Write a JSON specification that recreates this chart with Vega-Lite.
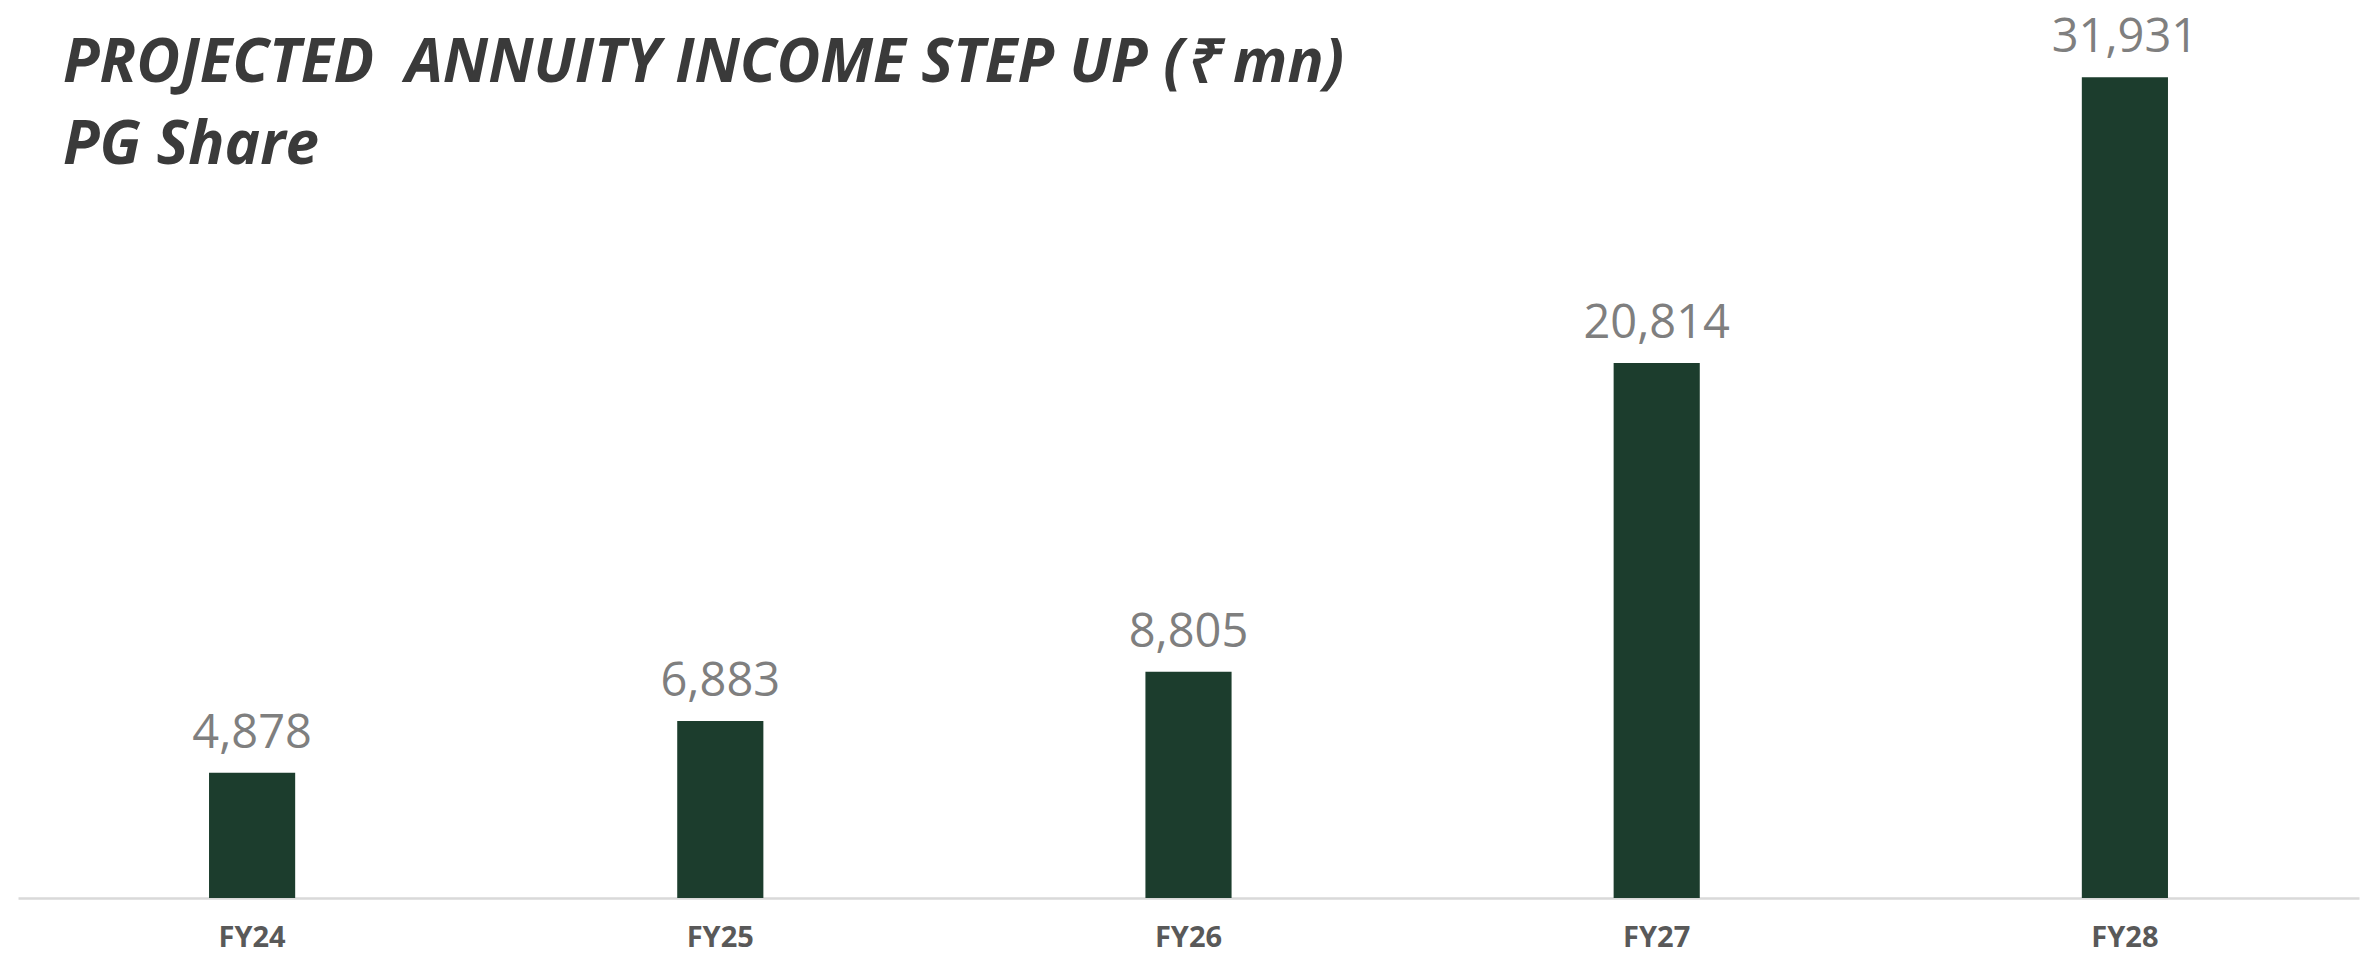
{
  "$schema": "https://vega.github.io/schema/vega-lite/v6.json",
  "width": 2341,
  "height": 878,
  "autosize": {"type": "none"},
  "padding": {"left": 18, "top": 20, "right": 11, "bottom": 55},
  "background": "white",
  "config": {"view": {"stroke": null}},
  "title": {
    "text": ["PROJECTED\u00a0 ANNUITY INCOME STEP UP (₹ mn)", "PG Share"],
    "anchor": "start",
    "frame": "group",
    "orient": "top",
    "offset": 0,
    "baseline": "alphabetic",
    "dx": 45,
    "dy": 210,
    "lineHeight": 82,
    "font": "Open Sans",
    "fontSize": 60,
    "fontWeight": "bold",
    "fontStyle": "italic",
    "color": "#3a3a3a"
  },
  "data": {
    "values": [
      {"year": "FY24", "value": 4878},
      {"year": "FY25", "value": 6883},
      {"year": "FY26", "value": 8805},
      {"year": "FY27", "value": 20814},
      {"year": "FY28", "value": 31931}
    ]
  },
  "encoding": {
    "x": {
      "field": "year",
      "type": "nominal",
      "sort": null,
      "scale": {"paddingInner": 0.816, "paddingOuter": 0.408},
      "axis": {
        "title": null,
        "ticks": false,
        "labelAngle": 0,
        "labelPadding": 25,
        "labelFont": "Open Sans",
        "labelFontSize": 29,
        "labelFontWeight": "bold",
        "labelColor": "#595959",
        "domainColor": "#d9d9d9",
        "domainWidth": 2.5,
        "grid": false
      }
    },
    "y": {
      "field": "value",
      "type": "quantitative",
      "scale": {"domain": [0, 34163], "nice": false, "zero": true},
      "axis": null
    }
  },
  "layer": [
    {"mark": {"type": "bar", "color": "#1c3d2d"}},
    {
      "mark": {
        "type": "text",
        "baseline": "alphabetic",
        "dy": -25,
        "font": "Open Sans",
        "fontSize": 47,
        "color": "#7f7f7f"
      },
      "encoding": {"text": {"field": "value", "type": "quantitative", "format": ","}}
    }
  ]
}
